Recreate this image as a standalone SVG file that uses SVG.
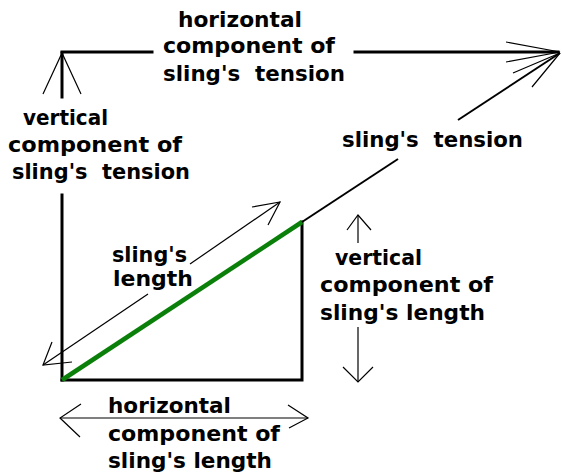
<svg xmlns="http://www.w3.org/2000/svg" width="562" height="475" viewBox="0 0 562 475">
<style>
text{font-family:"DejaVu Sans","Liberation Sans",sans-serif;font-weight:bold;font-size:22px;fill:#000;white-space:pre}
.thick{stroke:#000;stroke-width:3;fill:none;stroke-linecap:square}
.mid{stroke:#000;stroke-width:2;fill:none}
.thin{stroke:#000;stroke-width:1.2;fill:none}
.green{stroke:#0a800a;stroke-width:4.5;fill:none}
</style>
<rect width="562" height="475" fill="#fff"/>
<g id="connectors">
  <line class="thick" x1="62" y1="53" x2="62" y2="97"/>
  <line class="thick" x1="62" y1="195" x2="62" y2="380"/>
  <polyline class="thin" points="43,94 62,53 81,94"/>
  <line class="thick" x1="62" y1="52" x2="152" y2="52"/>
  <line class="thick" x1="355" y1="52" x2="558" y2="52"/>
  <polyline class="thin" points="506,42 560,52 506,62"/>
  <line class="mid" x1="560" y1="53" x2="458" y2="120"/>
  <line class="mid" x1="398" y1="159" x2="302" y2="222"/>
  <polyline class="thin" points="513,73 560,53 532,87"/>
  <polyline class="thick" points="62,380 302,380 302,222"/>
  <line class="green" x1="62" y1="380" x2="302" y2="222"/>
  <line class="thin" x1="43" y1="365" x2="148" y2="294"/>
  <line class="thin" x1="190" y1="264" x2="280" y2="202"/>
  <polyline class="thin" points="252,207 280,202 268,225"/>
  <polyline class="thin" points="52,342 43,365 72,362"/>
  <line class="thin" x1="358" y1="215" x2="358" y2="243"/>
  <polyline class="thin" points="347,230 358,215 371,230"/>
  <line class="thin" x1="358" y1="327" x2="358" y2="382"/>
  <polyline class="thin" points="343,367 358,382 373,367"/>
  <line class="thin" x1="60" y1="418" x2="308" y2="418"/>
  <polyline class="thin" points="81,404 60,418 80,437"/>
  <polyline class="thin" points="288,405 308,418 289,428"/>
</g>
<g id="label-horizontal-tension">
  <text x="178" y="27" textLength="124" lengthAdjust="spacingAndGlyphs">horizontal</text>
  <text x="163" y="53" textLength="172" lengthAdjust="spacingAndGlyphs">component of</text>
  <text x="163" y="81" textLength="182" lengthAdjust="spacingAndGlyphs">sling's  tension</text>
</g>
<g id="label-vertical-tension">
  <text x="23" y="125" textLength="85" lengthAdjust="spacingAndGlyphs">vertical</text>
  <text x="8" y="152" textLength="174" lengthAdjust="spacingAndGlyphs">component of</text>
  <text x="12" y="179" textLength="178" lengthAdjust="spacingAndGlyphs">sling's  tension</text>
</g>
<g id="label-sling-tension">
  <text x="342" y="147" textLength="181" lengthAdjust="spacingAndGlyphs">sling's  tension</text>
</g>
<g id="label-sling-length">
  <text x="112" y="262" textLength="75" lengthAdjust="spacingAndGlyphs">sling's</text>
  <text x="113" y="286" textLength="80" lengthAdjust="spacingAndGlyphs">length</text>
</g>
<g id="label-vertical-length">
  <text x="335" y="265" textLength="87" lengthAdjust="spacingAndGlyphs">vertical</text>
  <text x="320" y="292" textLength="173" lengthAdjust="spacingAndGlyphs">component of</text>
  <text x="320" y="320" textLength="165" lengthAdjust="spacingAndGlyphs">sling's length</text>
</g>
<g id="label-horizontal-length">
  <text x="108" y="413" textLength="123" lengthAdjust="spacingAndGlyphs">horizontal</text>
  <text x="108" y="441" textLength="172" lengthAdjust="spacingAndGlyphs">component of</text>
  <text x="108" y="468" textLength="164" lengthAdjust="spacingAndGlyphs">sling's length</text>
</g>
</svg>
